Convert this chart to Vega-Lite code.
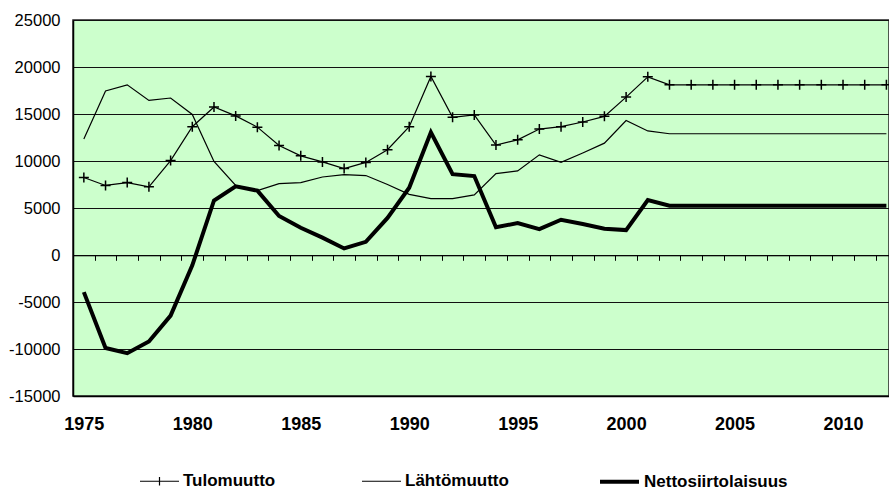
{
  "$schema": "https://vega.github.io/schema/vega-lite/v6.json",
  "width": 816,
  "height": 376,
  "autosize": "none",
  "padding": {"left": 73, "top": 20, "right": 0, "bottom": 94},
  "background": "white",
  "config": {
    "view": {"fill": "#ccffcc", "stroke": "#222", "strokeWidth": 1.5},
    "font": "Liberation Sans"
  },
  "data": {
    "values": [
      {"year": 1975, "Tulomuutto": 8250, "Lähtömuutto": 12350, "Nettosiirtolaisuus": -3950},
      {"year": 1976, "Tulomuutto": 7400, "Lähtömuutto": 17450, "Nettosiirtolaisuus": -9900},
      {"year": 1977, "Tulomuutto": 7700, "Lähtömuutto": 18100, "Nettosiirtolaisuus": -10450},
      {"year": 1978, "Tulomuutto": 7250, "Lähtömuutto": 16450, "Nettosiirtolaisuus": -9200},
      {"year": 1979, "Tulomuutto": 10050, "Lähtömuutto": 16700, "Nettosiirtolaisuus": -6450},
      {"year": 1980, "Tulomuutto": 13650, "Lähtömuutto": 14950, "Nettosiirtolaisuus": -1100},
      {"year": 1981, "Tulomuutto": 15750, "Lähtömuutto": 9950, "Nettosiirtolaisuus": 5800},
      {"year": 1982, "Tulomuutto": 14800, "Lähtömuutto": 7400, "Nettosiirtolaisuus": 7300},
      {"year": 1983, "Tulomuutto": 13600, "Lähtömuutto": 6850, "Nettosiirtolaisuus": 6850},
      {"year": 1984, "Tulomuutto": 11650, "Lähtömuutto": 7600, "Nettosiirtolaisuus": 4150},
      {"year": 1985, "Tulomuutto": 10550, "Lähtömuutto": 7700, "Nettosiirtolaisuus": 2900},
      {"year": 1986, "Tulomuutto": 9900, "Lähtömuutto": 8300, "Nettosiirtolaisuus": 1850},
      {"year": 1987, "Tulomuutto": 9200, "Lähtömuutto": 8550, "Nettosiirtolaisuus": 700},
      {"year": 1988, "Tulomuutto": 9850, "Lähtömuutto": 8450, "Nettosiirtolaisuus": 1400},
      {"year": 1989, "Tulomuutto": 11200, "Lähtömuutto": 7500, "Nettosiirtolaisuus": 3950},
      {"year": 1990, "Tulomuutto": 13650, "Lähtömuutto": 6450, "Nettosiirtolaisuus": 7150},
      {"year": 1991, "Tulomuutto": 19000, "Lähtömuutto": 6000, "Nettosiirtolaisuus": 13050},
      {"year": 1992, "Tulomuutto": 14650, "Lähtömuutto": 6000, "Nettosiirtolaisuus": 8600},
      {"year": 1993, "Tulomuutto": 14900, "Lähtömuutto": 6400, "Nettosiirtolaisuus": 8400},
      {"year": 1994, "Tulomuutto": 11700, "Lähtömuutto": 8650, "Nettosiirtolaisuus": 2950},
      {"year": 1995, "Tulomuutto": 12250, "Lähtömuutto": 8950, "Nettosiirtolaisuus": 3400},
      {"year": 1996, "Tulomuutto": 13400, "Lähtömuutto": 10650, "Nettosiirtolaisuus": 2750},
      {"year": 1997, "Tulomuutto": 13650, "Lähtömuutto": 9850, "Nettosiirtolaisuus": 3750},
      {"year": 1998, "Tulomuutto": 14150, "Lähtömuutto": 10850, "Nettosiirtolaisuus": 3300},
      {"year": 1999, "Tulomuutto": 14750, "Lähtömuutto": 11900, "Nettosiirtolaisuus": 2800},
      {"year": 2000, "Tulomuutto": 16800, "Lähtömuutto": 14300, "Nettosiirtolaisuus": 2650},
      {"year": 2001, "Tulomuutto": 18950, "Lähtömuutto": 13200, "Nettosiirtolaisuus": 5850},
      {"year": 2002, "Tulomuutto": 18100, "Lähtömuutto": 12900, "Nettosiirtolaisuus": 5250},
      {"year": 2003, "Tulomuutto": 18100, "Lähtömuutto": 12900, "Nettosiirtolaisuus": 5250},
      {"year": 2004, "Tulomuutto": 18100, "Lähtömuutto": 12900, "Nettosiirtolaisuus": 5250},
      {"year": 2005, "Tulomuutto": 18100, "Lähtömuutto": 12900, "Nettosiirtolaisuus": 5250},
      {"year": 2006, "Tulomuutto": 18100, "Lähtömuutto": 12900, "Nettosiirtolaisuus": 5250},
      {"year": 2007, "Tulomuutto": 18100, "Lähtömuutto": 12900, "Nettosiirtolaisuus": 5250},
      {"year": 2008, "Tulomuutto": 18100, "Lähtömuutto": 12900, "Nettosiirtolaisuus": 5250},
      {"year": 2009, "Tulomuutto": 18100, "Lähtömuutto": 12900, "Nettosiirtolaisuus": 5250},
      {"year": 2010, "Tulomuutto": 18100, "Lähtömuutto": 12900, "Nettosiirtolaisuus": 5250},
      {"year": 2011, "Tulomuutto": 18100, "Lähtömuutto": 12900, "Nettosiirtolaisuus": 5250},
      {"year": 2012, "Tulomuutto": 18100, "Lähtömuutto": 12900, "Nettosiirtolaisuus": 5250}
    ]
  },
  "transform": [
    {"fold": ["Tulomuutto", "Lähtömuutto", "Nettosiirtolaisuus"], "as": ["series", "value"]}
  ],
  "layer": [
    {
      "mark": {"type": "line", "color": "#000"},
      "encoding": {
        "x": {
          "field": "year", "type": "quantitative",
          "scale": {"domain": [1974.5, 2012.12], "nice": false, "zero": false},
          "axis": {
            "orient": "bottom", "title": null,
            "values": [1975, 1980, 1985, 1990, 1995, 2000, 2005, 2010],
            "labelExpr": "'' + datum.value",
            "labelFont": "Liberation Sans", "labelFontSize": 18, "labelFontWeight": "bold", "labelColor": "#000",
            "labelPadding": 19, "ticks": false, "grid": false,
            "domain": true, "domainColor": "#000", "domainWidth": 1.5
          }
        },
        "y": {
          "field": "value", "type": "quantitative", "title": null,
          "scale": {"domain": [-15000, 25000], "nice": false, "zero": false},
          "axis": {
            "title": null,
            "values": [-15000, -10000, -5000, 0, 5000, 10000, 15000, 20000, 25000],
            "labelExpr": "'' + datum.value",
            "labelFont": "Liberation Sans", "labelFontSize": 16.5, "labelColor": "#000", "labelPadding": 13,
            "ticks": false, "grid": true, "gridColor": "#111", "gridWidth": 1,
            "domain": true, "domainColor": "#000", "domainWidth": 1.5
          }
        },
        "strokeWidth": {
          "field": "series", "type": "nominal",
          "scale": {"type": "ordinal", "domain": ["Tulomuutto", "Lähtömuutto", "Nettosiirtolaisuus"], "range": [1.2, 1.2, 4]},
          "legend": {
            "orient": "none", "legendX": 66, "legendY": 440,
            "direction": "horizontal", "title": null, "padding": 0,
            "symbolType": "M-1,0L1,0", "symbolSize": 1521, "symbolStrokeColor": "#000",
            "labelFont": "Liberation Sans", "labelFontSize": 17, "labelFontWeight": "bold", "labelColor": "#000",
            "labelOffset": 3, "columnPadding": 83, "gridAlign": "each", "labelLimit": 300,
            "encode": {
              "symbols": {
                "update": {
                  "shape": {"signal": "datum.value === 'Tulomuutto' ? 'M-1,0L1,0M0,-0.22L0,0.22' : 'M-1,0L1,0'"}
                }
              }
            }
          }
        }
      }
    },
    {
      "transform": [{"filter": "datum.series === 'Tulomuutto'"}],
      "mark": {"type": "point", "shape": "M-1,0L1,0M0,-1L0,1", "filled": false, "stroke": "#000", "strokeWidth": 1.5, "size": 100, "opacity": 1},
      "encoding": {
        "x": {
          "field": "year", "type": "quantitative",
          "axis": {
            "orient": "bottom", "title": null, "offset": -140.7,
            "values": [1975.5, 1976.5, 1977.5, 1978.5, 1979.5, 1980.5, 1981.5, 1982.5, 1983.5, 1984.5, 1985.5, 1986.5, 1987.5, 1988.5, 1989.5, 1990.5, 1991.5, 1992.5, 1993.5, 1994.5, 1995.5, 1996.5, 1997.5, 1998.5, 1999.5, 2000.5, 2001.5, 2002.5, 2003.5, 2004.5, 2005.5, 2006.5, 2007.5, 2008.5, 2009.5, 2010.5, 2011.5],
            "labels": false, "ticks": true, "tickSize": 5, "tickColor": "#000", "tickWidth": 1,
            "grid": false, "domain": true, "domainColor": "#000", "domainWidth": 1
          }
        },
        "y": {"field": "value", "type": "quantitative", "title": null}
      }
    }
  ],
  "resolve": {"axis": {"x": "independent"}}
}
